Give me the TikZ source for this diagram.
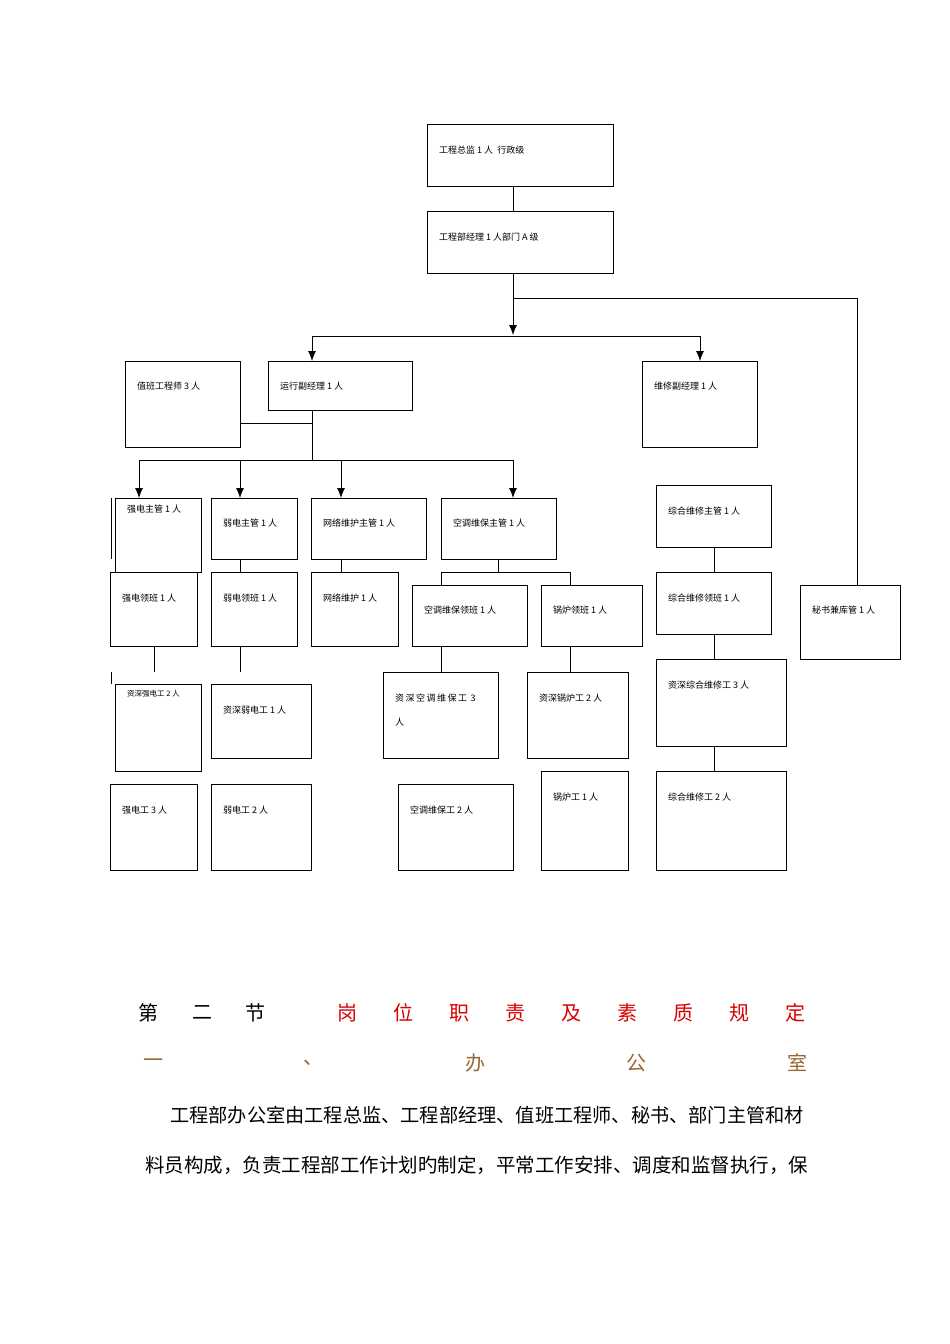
\documentclass[tikz,border=0pt]{standalone}
\usepackage{fontspec}
\newfontfamily\cjk{Noto Sans CJK SC}
\begin{document}
\begin{tikzpicture}[x=1pt,y=-1pt,
  boxln/.style={draw,line width=0.8pt},
  cn/.style={line width=0.8pt},
  ar/.style={line width=0.8pt,-{Latex[length=10pt,width=8pt]}},
  lbl/.style={anchor=west,inner sep=0pt,font=\cjk\fontsize{9}{10}\selectfont}]
\usetikzlibrary{arrows.meta}
\useasboundingbox (0,0) rectangle (950,1344);
\newcommand\bx[7]{%
  \draw[boxln] (#2,#3) rectangle (#4,#5);
  \coordinate (#1) at ({(#2+#4)/2},#3);
  \node[lbl] (#1t) at ({#2+12},#6) {#7};}
\bx{a}{427}{124}{613}{186}{150}{工程总监 1 人\ \ 行政级}
\bx{b}{427}{211}{613}{273}{237}{工程部经理 1 人部门 A 级}
\bx{z}{125}{361}{240}{447}{386}{值班工程师 3 人}
\bx{y}{268}{361}{412}{410}{386}{运行副经理 1 人}
\bx{w}{642}{361}{757}{447}{386}{维修副经理 1 人}
\draw[boxln] (111,498) -- (111,559);
\bx{qz}{115}{498}{201}{572}{509}{强电主管 1 人}
\bx{rz}{211}{498}{297}{559}{523}{弱电主管 1 人}
\bx{wz}{311}{498}{426}{559}{523}{网络维护主管 1 人}
\bx{kz}{441}{498}{556}{559}{523}{空调维保主管 1 人}
\bx{hz}{656}{485}{771}{547}{511}{综合维修主管 1 人}
\bx{ql}{110}{572}{197}{646}{598}{强电领班 1 人}
\bx{rl}{211}{572}{297}{646}{598}{弱电领班 1 人}
\bx{wl}{311}{572}{398}{646}{598}{网络维护 1 人}
\bx{kl}{412}{585}{527}{646}{610}{空调维保领班 1 人}
\bx{gl}{541}{585}{642}{646}{610}{锅炉领班 1 人}
\bx{hl}{656}{572}{771}{634}{598}{综合维修领班 1 人}
\bx{ms}{800}{585}{900}{659}{610}{秘书兼库管 1 人}
\draw[boxln] (115,684) rectangle (201,771);
\node[lbl,font=\cjk\fontsize{7.5}{9}\selectfont] (qs) at (127,694) {资深强电工 2 人};
\bx{rs}{211}{684}{311}{758}{710}{资深弱电工 1 人}
\draw[boxln] (383,672) rectangle (498,758);
\node[lbl] (ks) at (395,698) {资\,深\,空\,调\,维\,保\,工\, 3};
\node[lbl] (ks2) at (395,722) {人};
\bx{gs}{527}{672}{628}{758}{698}{资深锅炉工 2 人}
\bx{hs}{656}{659}{786}{746}{685}{资深综合维修工 3 人}
\bx{qg}{110}{784}{197}{870}{810}{强电工 3 人}
\bx{rg}{211}{784}{311}{870}{810}{弱电工 2 人}
\bx{kg}{398}{784}{513}{870}{810}{空调维保工 2 人}
\bx{gg}{541}{771}{628}{870}{797}{锅炉工 1 人}
\bx{hg}{656}{771}{786}{870}{797}{综合维修工 2 人}
% connectors
\draw[cn] (513,186) -- (513,211);
\draw[ar] (513,273) -- (513,335);
\draw[cn] (312,336) -- (700,336);
\draw[ar] (312,336) -- (312,361);
\draw[ar] (700,336) -- (700,361);
\draw[cn] (513,298) -- (857,298) -- (857,585);
\draw[cn] (312,410) -- (312,460);
\draw[cn] (240,423) -- (312,423);
\draw[cn] (139,460) -- (513,460);
\foreach \x in {139,240,341,513} \draw[ar] (\x,460) -- (\x,498);
\draw[cn] (240,559) -- (240,572);
\draw[cn] (341,559) -- (341,572);
\draw[cn] (498,559) -- (498,572);
\draw[cn] (441,572) -- (570,572);
\draw[cn] (441,572) -- (441,585);
\draw[cn] (570,572) -- (570,585);
\draw[cn] (154,646) -- (154,672);
\draw[cn] (240,646) -- (240,672);
\draw[cn] (111,672) -- (111,684);
\draw[cn] (441,646) -- (441,672);
\draw[cn] (570,646) -- (570,672);
\draw[cn] (714,547) -- (714,572);
\draw[cn] (714,634) -- (714,659);
\draw[cn] (714,746) -- (714,771);
% text
\begin{scope}[every node/.style={inner sep=0pt,font=\cjk\fontsize{20}{22}\selectfont}]
\foreach \c/\x in {第/148,二/202,节/255} \node at (\x,1013) {\c};
\foreach \c/\x in {岗/347,位/403,职/459,责/515,及/571,素/627,质/683,规/739,定/795} \node[text=red!85!black] at (\x,1013) {\c};
\foreach \c/\x in {一/153,、/313,办/475,公/636,室/797} \node[text=brown!80!black] at (\x,1063) {\c};
\end{scope}
\node[anchor=west,inner sep=0pt,font=\cjk\fontsize{19.2}{22}\selectfont] (p1) at (170,1115) {工程部办公室由工程总监、工程部经理、值班工程师、秘书、部门主管和材};
\node[anchor=west,inner sep=0pt,font=\cjk\fontsize{19.5}{22}\selectfont] (p2) at (145,1165) {料员构成，负责工程部工作计划旳制定，平常工作安排、调度和监督执行，保};
\end{tikzpicture}
\end{document}
